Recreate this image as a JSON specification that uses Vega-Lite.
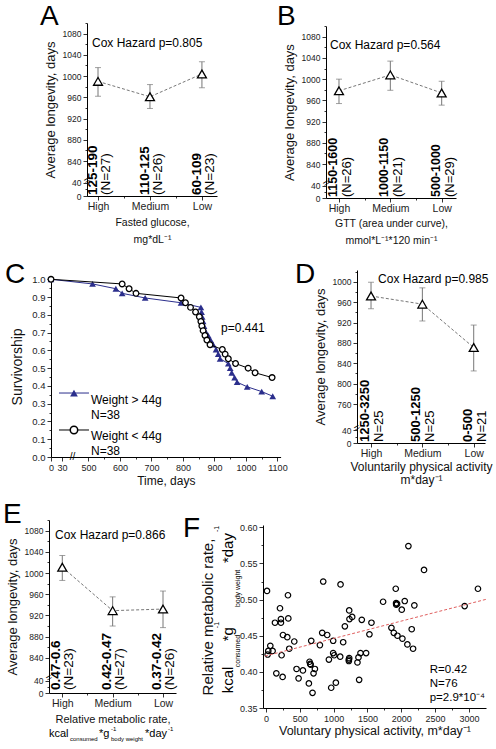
{
"$schema":"https://vega.github.io/schema/vega-lite/v6.json",
"padding":{"left":3,"top":3,"right":0,"bottom":0},
"bounds":"flush",
"align":"each",
"columns":2,
"spacing":{"row":72,"column":0},
"config":{
 "font":"Liberation Sans",
 "view":{"stroke":null},
 "axis":{"grid":false,"labelFlush":false,"labelOverlap":false,"domainColor":"#000","tickColor":"#000","labelColor":"#222","titleColor":"#111","titleFontWeight":"normal","tickWidth":0.8,"domainWidth":1,"labelFont":"Liberation Sans","titleFont":"Liberation Sans"},
 "text":{"font":"Liberation Sans","color":"#000"}
},
"datasets":{
 "heavy":[{"day":0,"surv":1.0},{"day":513,"surv":0.974},{"day":587,"surv":0.947},{"day":607,"surv":0.921},{"day":680,"surv":0.895},{"day":794,"surv":0.868},{"day":857,"surv":0.842},{"day":859,"surv":0.816},{"day":861,"surv":0.789},{"day":864,"surv":0.763},{"day":867,"surv":0.737},{"day":870,"surv":0.711},{"day":880,"surv":0.684},{"day":888,"surv":0.658},{"day":896,"surv":0.632},{"day":905,"surv":0.605},{"day":912,"surv":0.579},{"day":918,"surv":0.553},{"day":944,"surv":0.526},{"day":950,"surv":0.5},{"day":955,"surv":0.474},{"day":964,"surv":0.447},{"day":972,"surv":0.421},{"day":1004,"surv":0.395},{"day":1050,"surv":0.368},{"day":1085,"surv":0.342}],
 "light":[{"day":0,"surv":1.0},{"day":607,"surv":0.974},{"day":629,"surv":0.947},{"day":651,"surv":0.921},{"day":794,"surv":0.895},{"day":808,"surv":0.868},{"day":824,"surv":0.842},{"day":840,"surv":0.816},{"day":852,"surv":0.789},{"day":857,"surv":0.763},{"day":860,"surv":0.737},{"day":864,"surv":0.711},{"day":870,"surv":0.684},{"day":876,"surv":0.658},{"day":886,"surv":0.632},{"day":925,"surv":0.605},{"day":934,"surv":0.579},{"day":944,"surv":0.553},{"day":967,"surv":0.526},{"day":1007,"surv":0.5},{"day":1029,"surv":0.474},{"day":1083,"surv":0.447}],
 "fpts":[{"x":15,"y":0.512},{"x":25,"y":0.424},{"x":34,"y":0.429},{"x":64,"y":0.436},{"x":98,"y":0.429},{"x":133,"y":0.468},{"x":153,"y":0.398},{"x":207,"y":0.488},{"x":221,"y":0.473},{"x":221,"y":0.468},{"x":231,"y":0.423},{"x":246,"y":0.393},{"x":251,"y":0.451},{"x":315,"y":0.448},{"x":330,"y":0.474},{"x":325,"y":0.506},{"x":344,"y":0.432},{"x":418,"y":0.442},{"x":452,"y":0.404},{"x":482,"y":0.391},{"x":546,"y":0.402},{"x":634,"y":0.384},{"x":644,"y":0.414},{"x":654,"y":0.411},{"x":660,"y":0.41},{"x":669,"y":0.443},{"x":688,"y":0.371},{"x":703,"y":0.398},{"x":723,"y":0.404},{"x":797,"y":0.437},{"x":831,"y":0.454},{"x":846,"y":0.525},{"x":905,"y":0.451},{"x":930,"y":0.417},{"x":964,"y":0.378},{"x":993,"y":0.443},{"x":993,"y":0.426},{"x":1008,"y":0.423},{"x":1033,"y":0.385},{"x":1097,"y":0.421},{"x":1102,"y":0.521},{"x":1141,"y":0.441},{"x":1166,"y":0.463},{"x":1230,"y":0.485},{"x":1234,"y":0.473},{"x":1225,"y":0.417},{"x":1225,"y":0.415},{"x":1230,"y":0.419},{"x":1274,"y":0.476},{"x":1352,"y":0.413},{"x":1367,"y":0.42},{"x":1377,"y":0.389},{"x":1397,"y":0.426},{"x":1416,"y":0.472},{"x":1480,"y":0.426},{"x":1529,"y":0.452},{"x":1559,"y":0.468},{"x":1731,"y":0.497},{"x":1854,"y":0.461},{"x":1889,"y":0.454},{"x":1918,"y":0.515},{"x":1923,"y":0.495},{"x":1925,"y":0.493},{"x":1938,"y":0.494},{"x":1943,"y":0.45},{"x":2007,"y":0.486},{"x":2016,"y":0.446},{"x":2051,"y":0.498},{"x":2090,"y":0.438},{"x":2105,"y":0.574},{"x":2154,"y":0.459},{"x":2174,"y":0.432},{"x":2193,"y":0.492},{"x":2336,"y":0.541},{"x":2936,"y":0.491},{"x":3133,"y":0.515}]
},
"concat":[
 {"width":168,"height":173,
  "data":{"values":[
   {"pos":1,"mean":990,"lo":962,"hi":1016,"rng":"125-190","n":"(N=27)"},
   {"pos":2,"mean":961,"lo":939,"hi":984,"rng":"110-125","n":"(N=26)"},
   {"pos":3,"mean":1004,"lo":978,"hi":1027,"rng":"60-109","n":"(N=23)"}]},
  "layer":[
   {"mark":{"type":"line","strokeDash":[3,2],"color":"#777","strokeWidth":1},"encoding":{
     "x":{"field":"pos","type":"quantitative","scale":{"domain":[0.788,3.29],"range":[38,168],"nice":false,"zero":false},"axis":{"tickCount":100,"labelOverlap":false,"values":[1,1.5,2,2.5,3],"labelExpr":"datum.value==1?'High':datum.value==2?'Medium':datum.value==3?'Low':''","tickSize":{"condition":{"test":"datum.value%1===0","value":4},"value":2},"labelFontSize":10.5,"labelPadding":1,"title":["Fasted glucose,","mg*dL⁻¹"],"titleFontSize":10.5,"titleLineHeight":17,"titlePadding":6}},
     "y":{"field":"mean","type":"quantitative","scale":{"domain":[0,40,808,1100],"range":[173,159.5,155,0],"nice":false,"zero":false},"axis":{"tickCount":100,"labelOverlap":false,"offset":-38,"title":"Average longevity, days","titleFontSize":13,"titlePadding":5,"values":[0,20,40,840,860,880,900,920,940,960,980,1000,1020,1040,1060,1080,1100],"format":"d","labelExpr":"datum.value%40===0?datum.label:''","tickSize":{"condition":{"test":"datum.value%40===0","value":4},"value":2},"labelFontSize":8.5,"labelPadding":2}}}},
   {"mark":{"type":"rule","color":"#777","strokeWidth":1},"encoding":{"x":{"field":"pos","type":"quantitative","scale":{"domain":[0.788,3.29],"range":[38,168],"nice":false,"zero":false}},"y":{"field":"lo","type":"quantitative","scale":{"domain":[0,40,808,1100],"range":[173,159.5,155,0],"nice":false,"zero":false}},"y2":{"field":"hi"}}},
   {"mark":{"type":"tick","orient":"horizontal","color":"#777","size":6,"thickness":1},"encoding":{"x":{"field":"pos","type":"quantitative","scale":{"domain":[0.788,3.29],"range":[38,168],"nice":false,"zero":false}},"y":{"field":"lo","type":"quantitative","scale":{"domain":[0,40,808,1100],"range":[173,159.5,155,0],"nice":false,"zero":false}}}},
   {"mark":{"type":"tick","orient":"horizontal","color":"#777","size":6,"thickness":1},"encoding":{"x":{"field":"pos","type":"quantitative","scale":{"domain":[0.788,3.29],"range":[38,168],"nice":false,"zero":false}},"y":{"field":"hi","type":"quantitative","scale":{"domain":[0,40,808,1100],"range":[173,159.5,155,0],"nice":false,"zero":false}}}},
   {"mark":{"type":"point","shape":"triangle-up","filled":true,"fill":"white","stroke":"black","strokeWidth":1.3,"size":80,"opacity":1},"encoding":{"x":{"field":"pos","type":"quantitative","scale":{"domain":[0.788,3.29],"range":[38,168],"nice":false,"zero":false}},"y":{"field":"mean","type":"quantitative","scale":{"domain":[0,40,808,1100],"range":[173,159.5,155,0],"nice":false,"zero":false}}}},
   {"mark":{"type":"text","angle":270,"align":"left","baseline":"middle","fontWeight":"bold","fontSize":13.5,"dy":-5,"dx":1},"encoding":{"x":{"field":"pos","type":"quantitative","scale":{"domain":[0.788,3.29],"range":[38,168],"nice":false,"zero":false}},"y":{"datum":0,"type":"quantitative","scale":{"domain":[0,40,808,1100],"range":[173,159.5,155,0],"nice":false,"zero":false}},"text":{"field":"rng"}}},
   {"mark":{"type":"text","angle":270,"align":"left","baseline":"middle","fontSize":13.5,"dy":8,"dx":1},"encoding":{"x":{"field":"pos","type":"quantitative","scale":{"domain":[0.788,3.29],"range":[38,168],"nice":false,"zero":false}},"y":{"datum":0,"type":"quantitative","scale":{"domain":[0,40,808,1100],"range":[173,159.5,155,0],"nice":false,"zero":false}},"text":{"field":"n"}}},
   {"data":{"values":[{}]},"mark":{"type":"text","align":"left","baseline":"middle","fontSize":12},"encoding":{"x":{"datum":0.884,"type":"quantitative","scale":{"domain":[0.788,3.29],"range":[38,168],"nice":false,"zero":false}},"y":{"datum":1062,"type":"quantitative","scale":{"domain":[0,40,808,1100],"range":[173,159.5,155,0],"nice":false,"zero":false}},"text":{"value":"Cox Hazard p=0.805"}}},
   {"data":{"values":[{}]},"mark":{"type":"text","align":"center","baseline":"middle","fontSize":10,"angle":330},"encoding":{"x":{"datum":0.788,"type":"quantitative","scale":{"domain":[0.788,3.29],"range":[38,168],"nice":false,"zero":false}},"y":{"datum":400,"type":"quantitative","scale":{"domain":[0,40,808,1100],"range":[173,159.5,155,0],"nice":false,"zero":false}},"text":{"value":"="}}},
   {"data":{"values":[{}]},"mark":{"type":"text","align":"left","baseline":"alphabetic","fontSize":28,"dx":-47,"dy":2},"encoding":{"x":{"datum":0.788,"type":"quantitative","scale":{"domain":[0.788,3.29],"range":[38,168],"nice":false,"zero":false}},"y":{"datum":1100,"type":"quantitative","scale":{"domain":[0,40,808,1100],"range":[173,159.5,155,0],"nice":false,"zero":false}},"text":{"value":"A"}}}
  ]},
 {"width":193,"height":175,
  "data":{"values":[
   {"pos":1,"mean":978,"lo":954,"hi":1000,"rng":"1150-1600","n":"(N=26)"},
   {"pos":2,"mean":1008,"lo":979,"hi":1034,"rng":"1000-1150","n":"(N=21)"},
   {"pos":3,"mean":974,"lo":951,"hi":996,"rng":"500-1000","n":"(N=29)"}]},
  "layer":[
   {"mark":{"type":"line","strokeDash":[3,2],"color":"#777","strokeWidth":1},"encoding":{
     "x":{"field":"pos","type":"quantitative","scale":{"domain":[0.747,3.279],"range":[63,193],"nice":false,"zero":false},"axis":{"tickCount":100,"labelOverlap":false,"values":[1,1.5,2,2.5,3],"labelExpr":"datum.value==1?'High':datum.value==2?'Medium':datum.value==3?'Low':''","tickSize":{"condition":{"test":"datum.value%1===0","value":4},"value":2},"labelFontSize":10.5,"labelPadding":1,"title":["GTT (area under curve),","mmol*L⁻¹*120 min⁻¹"],"titleFontSize":10.5,"titleLineHeight":17,"titlePadding":5}},
     "y":{"field":"mean","type":"quantitative","scale":{"domain":[0,40,808,1100],"range":[175,162.7,158,3.1],"nice":false,"zero":false},"axis":{"tickCount":100,"labelOverlap":false,"offset":-63,"title":"Average longevity, days","titleFontSize":13,"titlePadding":5,"values":[0,20,40,840,860,880,900,920,940,960,980,1000,1020,1040,1060,1080,1100],"format":"d","labelExpr":"datum.value%40===0?datum.label:''","tickSize":{"condition":{"test":"datum.value%40===0","value":4},"value":2},"labelFontSize":8.5,"labelPadding":2}}}},
   {"mark":{"type":"rule","color":"#777","strokeWidth":1},"encoding":{"x":{"field":"pos","type":"quantitative","scale":{"domain":[0.747,3.279],"range":[63,193],"nice":false,"zero":false}},"y":{"field":"lo","type":"quantitative","scale":{"domain":[0,40,808,1100],"range":[175,162.7,158,3.1],"nice":false,"zero":false}},"y2":{"field":"hi"}}},
   {"mark":{"type":"tick","orient":"horizontal","color":"#777","size":6,"thickness":1},"encoding":{"x":{"field":"pos","type":"quantitative","scale":{"domain":[0.747,3.279],"range":[63,193],"nice":false,"zero":false}},"y":{"field":"lo","type":"quantitative","scale":{"domain":[0,40,808,1100],"range":[175,162.7,158,3.1],"nice":false,"zero":false}}}},
   {"mark":{"type":"tick","orient":"horizontal","color":"#777","size":6,"thickness":1},"encoding":{"x":{"field":"pos","type":"quantitative","scale":{"domain":[0.747,3.279],"range":[63,193],"nice":false,"zero":false}},"y":{"field":"hi","type":"quantitative","scale":{"domain":[0,40,808,1100],"range":[175,162.7,158,3.1],"nice":false,"zero":false}}}},
   {"mark":{"type":"point","shape":"triangle-up","filled":true,"fill":"white","stroke":"black","strokeWidth":1.3,"size":80,"opacity":1},"encoding":{"x":{"field":"pos","type":"quantitative","scale":{"domain":[0.747,3.279],"range":[63,193],"nice":false,"zero":false}},"y":{"field":"mean","type":"quantitative","scale":{"domain":[0,40,808,1100],"range":[175,162.7,158,3.1],"nice":false,"zero":false}}}},
   {"mark":{"type":"text","angle":270,"align":"left","baseline":"middle","fontWeight":"bold","fontSize":12.5,"dy":-6,"dx":1},"encoding":{"x":{"field":"pos","type":"quantitative","scale":{"domain":[0.747,3.279],"range":[63,193],"nice":false,"zero":false}},"y":{"datum":0,"type":"quantitative","scale":{"domain":[0,40,808,1100],"range":[175,162.7,158,3.1],"nice":false,"zero":false}},"text":{"field":"rng"}}},
   {"mark":{"type":"text","angle":270,"align":"left","baseline":"middle","fontSize":13,"dy":8,"dx":1},"encoding":{"x":{"field":"pos","type":"quantitative","scale":{"domain":[0.747,3.279],"range":[63,193],"nice":false,"zero":false}},"y":{"datum":0,"type":"quantitative","scale":{"domain":[0,40,808,1100],"range":[175,162.7,158,3.1],"nice":false,"zero":false}},"text":{"field":"n"}}},
   {"data":{"values":[{}]},"mark":{"type":"text","align":"left","baseline":"middle","fontSize":12},"encoding":{"x":{"datum":0.825,"type":"quantitative","scale":{"domain":[0.747,3.279],"range":[63,193],"nice":false,"zero":false}},"y":{"datum":1064,"type":"quantitative","scale":{"domain":[0,40,808,1100],"range":[175,162.7,158,3.1],"nice":false,"zero":false}},"text":{"value":"Cox Hazard p=0.564"}}},
   {"data":{"values":[{}]},"mark":{"type":"text","align":"center","baseline":"middle","fontSize":10,"angle":330},"encoding":{"x":{"datum":0.747,"type":"quantitative","scale":{"domain":[0.747,3.279],"range":[63,193],"nice":false,"zero":false}},"y":{"datum":400,"type":"quantitative","scale":{"domain":[0,40,808,1100],"range":[175,162.7,158,3.1],"nice":false,"zero":false}},"text":{"value":"="}}},
   {"data":{"values":[{}]},"mark":{"type":"text","align":"left","baseline":"alphabetic","fontSize":28,"dx":-49,"dy":-1},"encoding":{"x":{"datum":0.747,"type":"quantitative","scale":{"domain":[0.747,3.279],"range":[63,193],"nice":false,"zero":false}},"y":{"datum":1100,"type":"quantitative","scale":{"domain":[0,40,808,1100],"range":[175,162.7,158,3.1],"nice":false,"zero":false}},"text":{"value":"B"}}}
  ]},
 {"width":214,"height":178,
  "layer":[
   {"data":{"name":"heavy"},"mark":{"type":"line","color":"#2b2e8c","strokeWidth":1},"encoding":{
     "x":{"field":"day","type":"quantitative","scale":{"domain":[0,30,470,1110],"range":[2,13,30,231.6],"nice":false,"zero":false},"axis":{"tickCount":100,"labelOverlap":false,"offset":9,"values":[0,30,500,550,600,650,700,750,800,850,900,950,1000,1050,1100],"format":"d","labelExpr":"(datum.value%100===0||datum.value===30)?datum.label:''","tickSize":{"condition":{"test":"datum.value%100===0||datum.value===30","value":4},"value":2},"labelFontSize":9,"labelPadding":2,"title":"Time, days","titleFontSize":12,"titlePadding":3}},
     "y":{"field":"surv","type":"quantitative","scale":{"domain":[0,1.02],"range":[187,5.75],"nice":false,"zero":false},"axis":{"tickCount":100,"labelOverlap":false,"offset":-2,"values":[0,0.05,0.1,0.15,0.2,0.25,0.3,0.35,0.4,0.45,0.5,0.55,0.6,0.65,0.7,0.75,0.8,0.85,0.9,0.95,1.0],"format":".1f","labelExpr":"abs(datum.value*10-round(datum.value*10))<0.01?datum.label:''","tickSize":{"condition":{"test":"abs(datum.value*10-round(datum.value*10))<0.01","value":4},"value":2},"labelFontSize":9.5,"labelPadding":2,"title":"Survivorship","titleFontSize":14,"titlePadding":7}}}},
   {"data":{"name":"heavy"},"mark":{"type":"point","shape":"triangle-up","filled":true,"color":"#2b2e8c","size":45,"opacity":1},"encoding":{"x":{"field":"day","type":"quantitative","scale":{"domain":[0,30,470,1110],"range":[2,13,30,231.6],"nice":false,"zero":false}},"y":{"field":"surv","type":"quantitative","scale":{"domain":[0,1.02],"range":[187,5.75],"nice":false,"zero":false}}}},
   {"data":{"name":"light"},"mark":{"type":"line","color":"#000","strokeWidth":1},"encoding":{"x":{"field":"day","type":"quantitative","scale":{"domain":[0,30,470,1110],"range":[2,13,30,231.6],"nice":false,"zero":false}},"y":{"field":"surv","type":"quantitative","scale":{"domain":[0,1.02],"range":[187,5.75],"nice":false,"zero":false}}}},
   {"data":{"name":"light"},"mark":{"type":"point","shape":"circle","filled":true,"fill":"white","stroke":"black","strokeWidth":1.3,"size":32,"opacity":1},"encoding":{"x":{"field":"day","type":"quantitative","scale":{"domain":[0,30,470,1110],"range":[2,13,30,231.6],"nice":false,"zero":false}},"y":{"field":"surv","type":"quantitative","scale":{"domain":[0,1.02],"range":[187,5.75],"nice":false,"zero":false}}}},
   {"data":{"values":[{}]},"mark":{"type":"rule","color":"#2b2e8c","strokeWidth":1},"encoding":{"x":{"datum":21.8,"type":"quantitative","scale":{"domain":[0,30,470,1110],"range":[2,13,30,231.6],"nice":false,"zero":false}},"x2":{"datum":501.7},"y":{"datum":0.36,"type":"quantitative","scale":{"domain":[0,1.02],"range":[187,5.75],"nice":false,"zero":false}}}},
   {"data":{"values":[{}]},"mark":{"type":"point","shape":"triangle-up","filled":true,"color":"#2b2e8c","size":60,"opacity":1},"encoding":{"x":{"datum":340,"type":"quantitative","scale":{"domain":[0,30,470,1110],"range":[2,13,30,231.6],"nice":false,"zero":false}},"y":{"datum":0.36,"type":"quantitative","scale":{"domain":[0,1.02],"range":[187,5.75],"nice":false,"zero":false}}}},
   {"data":{"values":[{}]},"mark":{"type":"text","align":"left","baseline":"middle","fontSize":12,"lineHeight":14.5},"encoding":{"x":{"datum":508,"type":"quantitative","scale":{"domain":[0,30,470,1110],"range":[2,13,30,231.6],"nice":false,"zero":false}},"y":{"datum":0.3194,"type":"quantitative","scale":{"domain":[0,1.02],"range":[187,5.75],"nice":false,"zero":false}},"text":{"value":["Weight > 44g","N=38"]}}},
   {"data":{"values":[{}]},"mark":{"type":"rule","color":"#000","strokeWidth":1},"encoding":{"x":{"datum":21.8,"type":"quantitative","scale":{"domain":[0,30,470,1110],"range":[2,13,30,231.6],"nice":false,"zero":false}},"x2":{"datum":501.7},"y":{"datum":0.152,"type":"quantitative","scale":{"domain":[0,1.02],"range":[187,5.75],"nice":false,"zero":false}}}},
   {"data":{"values":[{}]},"mark":{"type":"point","shape":"circle","filled":true,"fill":"white","stroke":"black","strokeWidth":1.5,"size":55,"opacity":1},"encoding":{"x":{"datum":340,"type":"quantitative","scale":{"domain":[0,30,470,1110],"range":[2,13,30,231.6],"nice":false,"zero":false}},"y":{"datum":0.152,"type":"quantitative","scale":{"domain":[0,1.02],"range":[187,5.75],"nice":false,"zero":false}}}},
   {"data":{"values":[{}]},"mark":{"type":"text","align":"left","baseline":"middle","fontSize":12,"lineHeight":14.5},"encoding":{"x":{"datum":508,"type":"quantitative","scale":{"domain":[0,30,470,1110],"range":[2,13,30,231.6],"nice":false,"zero":false}},"y":{"datum":0.1154,"type":"quantitative","scale":{"domain":[0,1.02],"range":[187,5.75],"nice":false,"zero":false}},"text":{"value":["Weight < 44g","N=38"]}}},
   {"data":{"values":[{}]},"mark":{"type":"text","align":"left","baseline":"middle","fontSize":12},"encoding":{"x":{"datum":921,"type":"quantitative","scale":{"domain":[0,30,470,1110],"range":[2,13,30,231.6],"nice":false,"zero":false}},"y":{"datum":0.726,"type":"quantitative","scale":{"domain":[0,1.02],"range":[187,5.75],"nice":false,"zero":false}},"text":{"value":"p=0.441"}}},
   {"data":{"values":[{}]},"mark":{"type":"text","align":"center","baseline":"middle","fontSize":10},"encoding":{"x":{"datum":300,"type":"quantitative","scale":{"domain":[0,30,470,1110],"range":[2,13,30,231.6],"nice":false,"zero":false}},"y":{"datum":0,"type":"quantitative","scale":{"domain":[0,1.02],"range":[187,5.75],"nice":false,"zero":false}},"text":{"value":"//"}}},
   {"data":{"values":[{}]},"mark":{"type":"text","align":"left","baseline":"alphabetic","fontSize":28,"dx":-46,"dy":7},"encoding":{"x":{"datum":0,"type":"quantitative","scale":{"domain":[0,30,470,1110],"range":[2,13,30,231.6],"nice":false,"zero":false}},"y":{"datum":1.02,"type":"quantitative","scale":{"domain":[0,1.02],"range":[187,5.75],"nice":false,"zero":false}},"text":{"value":"C"}}}
  ]},
 {"width":222,"height":173,
  "data":{"values":[
   {"pos":1,"mean":972,"lo":947,"hi":999,"rng":"1250-3250","n":"N=25"},
   {"pos":2,"mean":956,"lo":923,"hi":988,"rng":"500-1250","n":"N=25"},
   {"pos":3,"mean":871,"lo":825,"hi":915,"rng":"0-500","n":"N=21"}]},
  "layer":[
   {"mark":{"type":"line","strokeDash":[3,2],"color":"#777","strokeWidth":1},"encoding":{
     "x":{"field":"pos","type":"quantitative","scale":{"domain":[0.727,3.22],"range":[94,222],"nice":false,"zero":false},"axis":{"tickCount":100,"labelOverlap":false,"values":[1,1.5,2,2.5,3],"labelExpr":"datum.value==1?'High':datum.value==2?'Medium':datum.value==3?'Low':''","tickSize":{"condition":{"test":"datum.value%1===0","value":4},"value":2},"labelFontSize":10.5,"labelPadding":1,"title":["Voluntarily physical activity","m*day⁻¹"],"titleFontSize":12,"titleLineHeight":12.5,"titlePadding":3}},
     "y":{"field":"mean","type":"quantitative","scale":{"domain":[0,40,717,1023],"range":[173,160,156,0],"nice":false,"zero":false},"axis":{"tickCount":100,"labelOverlap":false,"offset":-94,"title":"Average longevity, days","titleFontSize":13,"titlePadding":5,"values":[0,20,40,760,780,800,820,840,860,880,900,920,940,960,980,1000,1020],"format":"d","labelExpr":"datum.value%40===0?datum.label:''","tickSize":{"condition":{"test":"datum.value%40===0","value":4},"value":2},"labelFontSize":8.5,"labelPadding":2}}}},
   {"mark":{"type":"rule","color":"#777","strokeWidth":1},"encoding":{"x":{"field":"pos","type":"quantitative","scale":{"domain":[0.727,3.22],"range":[94,222],"nice":false,"zero":false}},"y":{"field":"lo","type":"quantitative","scale":{"domain":[0,40,717,1023],"range":[173,160,156,0],"nice":false,"zero":false}},"y2":{"field":"hi"}}},
   {"mark":{"type":"tick","orient":"horizontal","color":"#777","size":6,"thickness":1},"encoding":{"x":{"field":"pos","type":"quantitative","scale":{"domain":[0.727,3.22],"range":[94,222],"nice":false,"zero":false}},"y":{"field":"lo","type":"quantitative","scale":{"domain":[0,40,717,1023],"range":[173,160,156,0],"nice":false,"zero":false}}}},
   {"mark":{"type":"tick","orient":"horizontal","color":"#777","size":6,"thickness":1},"encoding":{"x":{"field":"pos","type":"quantitative","scale":{"domain":[0.727,3.22],"range":[94,222],"nice":false,"zero":false}},"y":{"field":"hi","type":"quantitative","scale":{"domain":[0,40,717,1023],"range":[173,160,156,0],"nice":false,"zero":false}}}},
   {"mark":{"type":"point","shape":"triangle-up","filled":true,"fill":"white","stroke":"black","strokeWidth":1.3,"size":80,"opacity":1},"encoding":{"x":{"field":"pos","type":"quantitative","scale":{"domain":[0.727,3.22],"range":[94,222],"nice":false,"zero":false}},"y":{"field":"mean","type":"quantitative","scale":{"domain":[0,40,717,1023],"range":[173,160,156,0],"nice":false,"zero":false}}}},
   {"mark":{"type":"text","angle":270,"align":"left","baseline":"middle","fontWeight":"bold","fontSize":13,"dy":-6,"dx":1},"encoding":{"x":{"field":"pos","type":"quantitative","scale":{"domain":[0.727,3.22],"range":[94,222],"nice":false,"zero":false}},"y":{"datum":0,"type":"quantitative","scale":{"domain":[0,40,717,1023],"range":[173,160,156,0],"nice":false,"zero":false}},"text":{"field":"rng"}}},
   {"mark":{"type":"text","angle":270,"align":"left","baseline":"middle","fontSize":13,"dy":8,"dx":1},"encoding":{"x":{"field":"pos","type":"quantitative","scale":{"domain":[0.727,3.22],"range":[94,222],"nice":false,"zero":false}},"y":{"datum":0,"type":"quantitative","scale":{"domain":[0,40,717,1023],"range":[173,160,156,0],"nice":false,"zero":false}},"text":{"field":"n"}}},
   {"data":{"values":[{}]},"mark":{"type":"text","align":"left","baseline":"middle","fontSize":12},"encoding":{"x":{"datum":1.137,"type":"quantitative","scale":{"domain":[0.727,3.22],"range":[94,222],"nice":false,"zero":false}},"y":{"datum":1005,"type":"quantitative","scale":{"domain":[0,40,717,1023],"range":[173,160,156,0],"nice":false,"zero":false}},"text":{"value":"Cox Hazard p=0.985"}}},
   {"data":{"values":[{}]},"mark":{"type":"text","align":"center","baseline":"middle","fontSize":10,"angle":330},"encoding":{"x":{"datum":0.727,"type":"quantitative","scale":{"domain":[0.727,3.22],"range":[94,222],"nice":false,"zero":false}},"y":{"datum":380,"type":"quantitative","scale":{"domain":[0,40,717,1023],"range":[173,160,156,0],"nice":false,"zero":false}},"text":{"value":"="}}},
   {"data":{"values":[{}]},"mark":{"type":"text","align":"left","baseline":"alphabetic","fontSize":28,"dx":-62,"dy":13},"encoding":{"x":{"datum":0.727,"type":"quantitative","scale":{"domain":[0.727,3.22],"range":[94,222],"nice":false,"zero":false}},"y":{"datum":1023,"type":"quantitative","scale":{"domain":[0,40,717,1023],"range":[173,160,156,0],"nice":false,"zero":false}},"text":{"value":"D"}}}
  ]},
 {"width":127,"height":173,
  "data":{"values":[
   {"pos":1,"mean":1011,"lo":986,"hi":1033,"rng":"0.47-0.6","n":"(N=23)"},
   {"pos":2,"mean":929,"lo":900,"hi":955,"rng":"0.42-0.47","n":"(N=27)"},
   {"pos":3,"mean":932,"lo":897,"hi":966,"rng":"0.37-0.42","n":"(N=26)"}]},
  "layer":[
   {"mark":{"type":"line","strokeDash":[3,2],"color":"#777","strokeWidth":1},"encoding":{
     "x":{"field":"pos","type":"quantitative","scale":{"domain":[0.736,3.258],"range":[0,127],"nice":false,"zero":false},"axis":{"tickCount":100,"labelOverlap":false,"values":[1,1.5,2,2.5,3],"labelExpr":"datum.value==1?'High':datum.value==2?'Medium':datum.value==3?'Low':''","tickSize":{"condition":{"test":"datum.value%1===0","value":4},"value":2},"labelFontSize":10.5,"labelPadding":1,"title":"Relative metabolic rate,","titleFontSize":11,"titlePadding":5}},
     "y":{"field":"mean","type":"quantitative","scale":{"domain":[0,40,808,1100],"range":[173,160.5,154.8,0],"nice":false,"zero":false},"axis":{"tickCount":100,"labelOverlap":false,"title":"Average longevity, days","titleFontSize":13,"titlePadding":5,"values":[0,20,40,840,860,880,900,920,940,960,980,1000,1020,1040,1060,1080,1100],"format":"d","labelExpr":"datum.value%40===0?datum.label:''","tickSize":{"condition":{"test":"datum.value%40===0","value":4},"value":2},"labelFontSize":8.5,"labelPadding":2}}}},
   {"mark":{"type":"rule","color":"#777","strokeWidth":1},"encoding":{"x":{"field":"pos","type":"quantitative","scale":{"domain":[0.736,3.258],"range":[0,127],"nice":false,"zero":false}},"y":{"field":"lo","type":"quantitative","scale":{"domain":[0,40,808,1100],"range":[173,160.5,154.8,0],"nice":false,"zero":false}},"y2":{"field":"hi"}}},
   {"mark":{"type":"tick","orient":"horizontal","color":"#777","size":6,"thickness":1},"encoding":{"x":{"field":"pos","type":"quantitative","scale":{"domain":[0.736,3.258],"range":[0,127],"nice":false,"zero":false}},"y":{"field":"lo","type":"quantitative","scale":{"domain":[0,40,808,1100],"range":[173,160.5,154.8,0],"nice":false,"zero":false}}}},
   {"mark":{"type":"tick","orient":"horizontal","color":"#777","size":6,"thickness":1},"encoding":{"x":{"field":"pos","type":"quantitative","scale":{"domain":[0.736,3.258],"range":[0,127],"nice":false,"zero":false}},"y":{"field":"hi","type":"quantitative","scale":{"domain":[0,40,808,1100],"range":[173,160.5,154.8,0],"nice":false,"zero":false}}}},
   {"mark":{"type":"point","shape":"triangle-up","filled":true,"fill":"white","stroke":"black","strokeWidth":1.3,"size":80,"opacity":1},"encoding":{"x":{"field":"pos","type":"quantitative","scale":{"domain":[0.736,3.258],"range":[0,127],"nice":false,"zero":false}},"y":{"field":"mean","type":"quantitative","scale":{"domain":[0,40,808,1100],"range":[173,160.5,154.8,0],"nice":false,"zero":false}}}},
   {"mark":{"type":"text","angle":270,"align":"left","baseline":"middle","fontWeight":"bold","fontSize":13.5,"dy":-6,"dx":3},"encoding":{"x":{"field":"pos","type":"quantitative","scale":{"domain":[0.736,3.258],"range":[0,127],"nice":false,"zero":false}},"y":{"datum":0,"type":"quantitative","scale":{"domain":[0,40,808,1100],"range":[173,160.5,154.8,0],"nice":false,"zero":false}},"text":{"field":"rng"}}},
   {"mark":{"type":"text","angle":270,"align":"left","baseline":"middle","fontSize":13.5,"dy":7,"dx":3},"encoding":{"x":{"field":"pos","type":"quantitative","scale":{"domain":[0.736,3.258],"range":[0,127],"nice":false,"zero":false}},"y":{"datum":0,"type":"quantitative","scale":{"domain":[0,40,808,1100],"range":[173,160.5,154.8,0],"nice":false,"zero":false}},"text":{"field":"n"}}},
   {"data":{"values":[{}]},"mark":{"type":"text","align":"left","baseline":"middle","fontSize":12},"encoding":{"x":{"datum":0.855,"type":"quantitative","scale":{"domain":[0.736,3.258],"range":[0,127],"nice":false,"zero":false}},"y":{"datum":1071,"type":"quantitative","scale":{"domain":[0,40,808,1100],"range":[173,160.5,154.8,0],"nice":false,"zero":false}},"text":{"value":"Cox Hazard p=0.866"}}},
   {"data":{"values":[{}]},"mark":{"type":"text","align":"center","baseline":"middle","fontSize":10,"angle":330},"encoding":{"x":{"datum":0.736,"type":"quantitative","scale":{"domain":[0.736,3.258],"range":[0,127],"nice":false,"zero":false}},"y":{"datum":400,"type":"quantitative","scale":{"domain":[0,40,808,1100],"range":[173,160.5,154.8,0],"nice":false,"zero":false}},"text":{"value":"="}}},
   {"data":{"values":[{}]},"mark":{"type":"text","align":"left","baseline":"alphabetic","fontSize":28,"dx":-46,"dy":3},"encoding":{"x":{"datum":0.736,"type":"quantitative","scale":{"domain":[0.736,3.258],"range":[0,127],"nice":false,"zero":false}},"y":{"datum":1100,"type":"quantitative","scale":{"domain":[0,40,808,1100],"range":[173,160.5,154.8,0],"nice":false,"zero":false}},"text":{"value":"E"}}},
   {"data":{"values":[{"t":"kcal","p":0.736},{"t":"*g","p":1.729},{"t":"*day","p":2.643}]},"mark":{"type":"text","align":"left","baseline":"alphabetic","fontSize":11,"dy":44},"encoding":{"x":{"field":"p","type":"quantitative","scale":{"domain":[0.736,3.258],"range":[0,127],"nice":false,"zero":false}},"y":{"datum":0,"type":"quantitative","scale":{"domain":[0,40,808,1100],"range":[173,160.5,154.8,0],"nice":false,"zero":false}},"text":{"field":"t"}}},
   {"data":{"values":[{"t":"consumed","p":1.153},{"t":"body weight","p":1.967}]},"mark":{"type":"text","align":"left","baseline":"alphabetic","fontSize":6,"dy":48},"encoding":{"x":{"field":"p","type":"quantitative","scale":{"domain":[0.736,3.258],"range":[0,127],"nice":false,"zero":false}},"y":{"datum":0,"type":"quantitative","scale":{"domain":[0,40,808,1100],"range":[173,160.5,154.8,0],"nice":false,"zero":false}},"text":{"field":"t"}}},
   {"data":{"values":[{"t":"-1","p":1.967},{"t":"-1","p":3.099}]},"mark":{"type":"text","align":"left","baseline":"alphabetic","fontSize":6,"dy":38},"encoding":{"x":{"field":"p","type":"quantitative","scale":{"domain":[0.736,3.258],"range":[0,127],"nice":false,"zero":false}},"y":{"datum":0,"type":"quantitative","scale":{"domain":[0,40,808,1100],"range":[173,160.5,154.8,0],"nice":false,"zero":false}},"text":{"field":"t"}}}
  ]},
 {"width":223,"height":188,
  "layer":[
   {"data":{"name":"fpts"},"mark":{"type":"point","shape":"circle","filled":false,"stroke":"black","strokeWidth":1.2,"size":30,"opacity":1},"encoding":{
     "x":{"field":"x","type":"quantitative","scale":{"domain":[-44,3252],"range":[0,223],"nice":false,"zero":false},"axis":{"tickCount":100,"labelOverlap":false,"values":[0,250,500,750,1000,1250,1500,1750,2000,2250,2500,2750,3000],"format":"d","labelExpr":"datum.value%500===0?datum.label:''","tickSize":{"condition":{"test":"datum.value%500===0","value":4},"value":2},"labelFontSize":9,"labelPadding":2,"title":"Voluntary physical activity, m*day⁻¹","titleFontSize":12.5,"titlePadding":1}},
     "y":{"field":"y","type":"quantitative","scale":{"domain":[0.35,0.6032],"range":[188,5],"nice":false,"zero":false},"axis":{"tickCount":100,"labelOverlap":false,"values":[0.35,0.375,0.4,0.425,0.45,0.475,0.5,0.525,0.55,0.575,0.6],"format":".2f","labelExpr":"abs(datum.value*20-round(datum.value*20))<0.01?datum.label:''","tickSize":{"condition":{"test":"abs(datum.value*20-round(datum.value*20))<0.01","value":4},"value":2},"labelFontSize":9,"labelPadding":2,"title":"Relative metabolic rate,","titleFontSize":15,"titlePadding":24}}}},
   {"data":{"name":"fpts"},"transform":[{"regression":"y","on":"x","extent":[-15,3250]}],"mark":{"type":"line","color":"#e06060","strokeDash":[3,2],"strokeWidth":1},"encoding":{"x":{"field":"x","type":"quantitative","scale":{"domain":[-44,3252],"range":[0,223],"nice":false,"zero":false}},"y":{"field":"y","type":"quantitative","scale":{"domain":[0.35,0.6032],"range":[188,5],"nice":false,"zero":false}}}},
   {"data":{"values":[{}]},"mark":{"type":"text","align":"left","baseline":"top","fontSize":11.5,"lineHeight":14},"encoding":{"x":{"datum":2420,"type":"quantitative","scale":{"domain":[-44,3252],"range":[0,223],"nice":false,"zero":false}},"y":{"datum":0.4106,"type":"quantitative","scale":{"domain":[0.35,0.6032],"range":[188,5],"nice":false,"zero":false}},"text":{"value":["R=0.42","N=76","p=2.9*10⁻⁴"]}}},
   {"data":{"values":[{}]},"mark":{"type":"text","align":"left","baseline":"alphabetic","fontSize":28,"dx":-80,"dy":12},"encoding":{"x":{"datum":-44,"type":"quantitative","scale":{"domain":[-44,3252],"range":[0,223],"nice":false,"zero":false}},"y":{"datum":0.6032,"type":"quantitative","scale":{"domain":[0.35,0.6032],"range":[188,5],"nice":false,"zero":false}},"text":{"value":"F"}}},
   {"data":{"values":[{"t":"kcal","p":0.3704},{"t":"*g","p":0.4424},{"t":"*day","p":0.5505}]},"mark":{"type":"text","angle":270,"align":"left","baseline":"middle","fontSize":15,"dy":-35},"encoding":{"x":{"datum":-44,"type":"quantitative","scale":{"domain":[-44,3252],"range":[0,223],"nice":false,"zero":false}},"y":{"field":"p","type":"quantitative","scale":{"domain":[0.35,0.6032],"range":[188,5],"nice":false,"zero":false}},"text":{"field":"t"}}},
   {"data":{"values":[{"t":"consumed","p":0.4064},{"t":"body weight","p":0.4896}]},"mark":{"type":"text","angle":270,"align":"left","baseline":"middle","fontSize":7,"dy":-25},"encoding":{"x":{"datum":-44,"type":"quantitative","scale":{"domain":[-44,3252],"range":[0,223],"nice":false,"zero":false}},"y":{"field":"p","type":"quantitative","scale":{"domain":[0.35,0.6032],"range":[188,5],"nice":false,"zero":false}},"text":{"field":"t"}}},
   {"data":{"values":[{"t":"-1","p":0.4605},{"t":"-1","p":0.5935}]},"mark":{"type":"text","angle":270,"align":"left","baseline":"middle","fontSize":7,"dy":-46},"encoding":{"x":{"datum":-44,"type":"quantitative","scale":{"domain":[-44,3252],"range":[0,223],"nice":false,"zero":false}},"y":{"field":"p","type":"quantitative","scale":{"domain":[0.35,0.6032],"range":[188,5],"nice":false,"zero":false}},"text":{"field":"t"}}}
  ]}
]
}
